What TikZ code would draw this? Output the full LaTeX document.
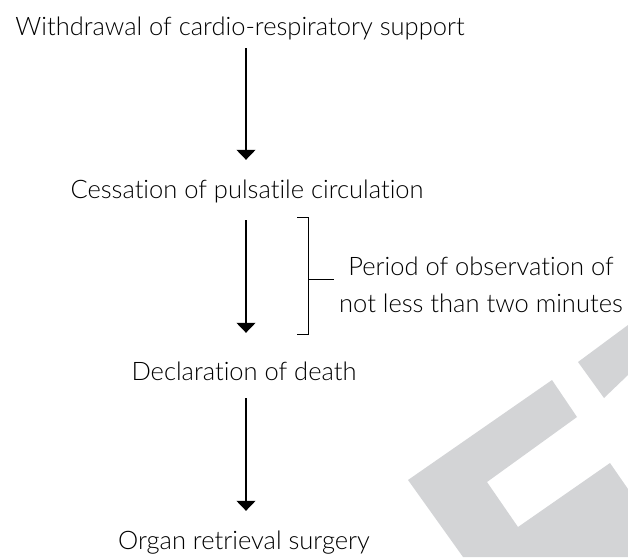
\documentclass[tikz,border=0pt]{standalone}
\usepackage{fontspec}
\setmainfont{Lato Light}[Ligatures={NoCommon}]
\usetikzlibrary{arrows.meta}
\definecolor{wmgray}{RGB}{211,212,214}
\begin{document}
\begin{tikzpicture}[x=1pt,y=-1pt,
  lbl/.style={font=\fontsize{25.5}{37}\selectfont, inner sep=0pt, text height=16pt, text depth=5pt, anchor=base},
  arr/.style={line width=1.2pt, -{Triangle[width=19pt,length=10pt]}},
  thin/.style={line width=1pt}]
\useasboundingbox (0,0) rectangle (628,557);
% watermark
\fill[wmgray] (408,480) -- (552,380) -- (577,417) -- (487,482) -- (518,527) -- (610,463) -- (628,489) -- (628,557) -- (463,557) -- cycle;
\fill[wmgray] (578,362) -- (628,325) -- (628,375) -- (604,398) -- cycle;
% nodes
\coordinate (ax) at (246,0);
\node[lbl] (t1) at (240,35) {Withdrawal of cardio-respiratory support};
\node[lbl] (t2) at (247,198) {Cessation of pulsatile circulation};
\node[lbl] (t3) at (244,380) {Declaration of death};
\node[lbl] (t4) at (244,549) {Organ retrieval surgery};
\node[lbl] (obs1) at (481,275) {Period of observation of};
\node[lbl] (obs2) at (481,312) {not less than two minutes};
% arrows
\draw[arr, shorten <=8pt, shorten >=22pt] (t1.south -| ax) -- (t2.north -| ax);
\draw[arr, shorten <=17pt, shorten >=31pt] (t2.south -| ax) -- (t3.north -| ax);
\draw[arr, shorten <=13pt, shorten >=22pt] (t3.south -| ax) -- (t4.north -| ax);
% bracket
\coordinate (btop) at (297,217);
\coordinate (bbot) at (297,334);
\coordinate (bmid) at (308,279);
\draw[thin] (btop) -- (btop -| bmid) -- (bbot -| bmid) -- (bbot);
\draw[thin] (bmid) -- ([xshift=-5pt]bmid -| obs2.west);
\end{tikzpicture}
\end{document}
